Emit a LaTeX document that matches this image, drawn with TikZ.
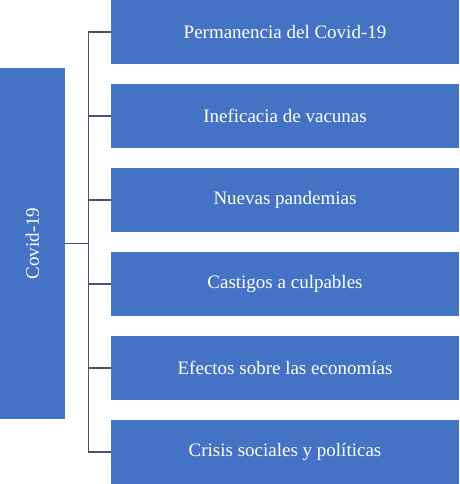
\documentclass[tikz,border=0pt]{standalone}
\usepackage{fontspec}
\setmainfont{Liberation Serif}
\definecolor{boxblue}{HTML}{4472C4}
\definecolor{linegray}{HTML}{44546A}

\begin{document}
\begin{tikzpicture}[x=1pt, y=-1pt,
    topic/.style={fill=boxblue, text=white, inner sep=0pt,
        minimum width=348pt, minimum height=64pt,
        font=\fontsize{19}{22}\selectfont},
    conn/.style={draw=linegray, line width=1.2pt}]
    \useasboundingbox (0,0) rectangle (459,484);

    % Root box, text running upwards
    \node[topic, rotate=90, minimum width=351pt, minimum height=65pt] (cov) at (32.5,243.5) {Covid-19};
    \draw[conn] (cov.south) -- ++(23,0) coordinate (hub);

    % Branch boxes
    \foreach \txt [count=\i] in {Permanencia del Covid-19, Ineficacia de vacunas,
        Nuevas pandemias, Castigos a culpables,
        Efectos sobre las economías, Crisis sociales y políticas}
        \node[topic] (t\i) at (285, 32 + 84*\i - 84) {\txt};

    % Connectors
    \foreach \i in {1,...,6} \draw[conn] (t\i.west) -| (hub);
\end{tikzpicture}
\end{document}
